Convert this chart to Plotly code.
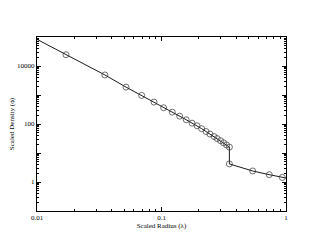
import plotly.graph_objects as go

# Marker (simulation) data
radius = [0.0171, 0.0351, 0.0519, 0.0693, 0.0871, 0.104, 0.122, 0.140, 0.158, 0.176,
          0.193, 0.210, 0.228, 0.245, 0.264, 0.280, 0.298, 0.315, 0.333, 0.351,
          0.351, 0.54, 0.734, 0.934]
density = [24500, 4900, 1870, 970, 569, 364, 256, 186, 140, 107,
           87, 69, 55, 45, 37, 31.5, 26.5, 22.5, 19, 16,
           4.2, 2.4, 1.79, 1.44]

# Model curve
line_r = [0.01, 0.0171, 0.0351, 0.0519, 0.0693, 0.0871, 0.104, 0.122, 0.140, 0.158, 0.176,
          0.193, 0.210, 0.228, 0.245, 0.264, 0.280, 0.298, 0.315, 0.333, 0.351,
          0.351, 0.54, 0.734, 0.934, 1.0]
line_d = [83000, 24500, 4900, 1870, 970, 569, 364, 256, 186, 140, 107,
          87, 69, 55, 45, 37, 31.5, 26.5, 22.5, 19, 16,
          4.2, 2.4, 1.79, 1.44, 1.37]

y_tickvals = [0.1, 1, 10, 100, 1000, 10000, 100000]
y_ticktext = ["", "1", "", "100", "", "10000", ""]
x_tickvals = [0.01, 0.1, 1]
x_ticktext = ["0.01", "0.1", "1"]

font = dict(family="Liberation Serif, Times New Roman, serif", size=7, color="black")

fig = go.Figure()
fig.add_trace(go.Scatter(x=line_r, y=line_d, mode="lines",
                         line=dict(color="black", width=0.9), showlegend=False))
fig.add_trace(go.Scatter(x=radius, y=density, mode="markers",
                         marker=dict(symbol="circle-open", size=6, color="#333333",
                                     line=dict(width=0.7, color="#333333")),
                         showlegend=False))

axis_common = dict(showgrid=False, zeroline=False, showline=True, linecolor="black",
                   linewidth=1, mirror="allticks", ticks="inside", ticklen=4,
                   tickcolor="black", tickwidth=1, tickfont=font, automargin=False)

fig.update_xaxes(type="log", range=[-2, 0], tickmode="array", tickvals=x_tickvals,
                 ticktext=x_ticktext,
                 minor=dict(ticks="inside", ticklen=2, tickcolor="black", dtick="D1", showgrid=False),
                 title=dict(text="Scaled Radius (λ)", font=font, standoff=0),
                 **axis_common)
fig.update_yaxes(type="log", range=[-1, 5], tickmode="array", tickvals=y_tickvals,
                 ticktext=y_ticktext,
                 minor=dict(ticks="inside", ticklen=2, tickcolor="black", dtick="D1", showgrid=False),
                 title=dict(text="Scaled Density (ϕ)", font=font, standoff=2),
                 **axis_common)

fig.update_layout(width=314, height=241, margin=dict(l=29, r=36, t=29, b=38),
                  plot_bgcolor="white", paper_bgcolor="white", font=font)

fig.write_html("out.html")
